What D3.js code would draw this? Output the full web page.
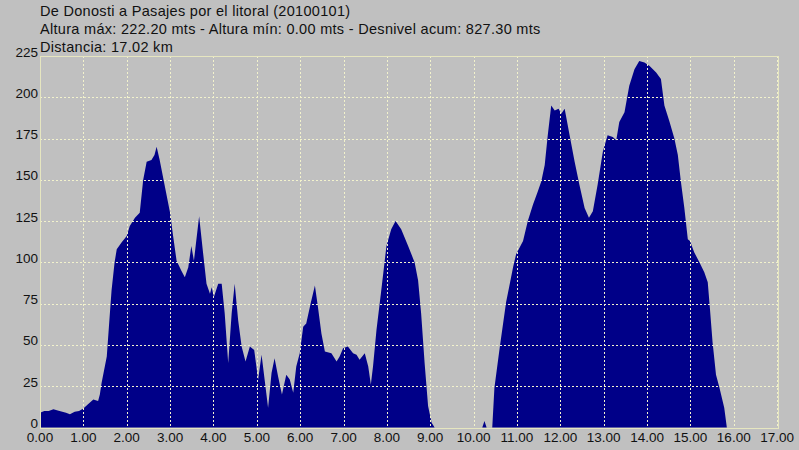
<!DOCTYPE html>
<html><head><meta charset="utf-8">
<script src="https://cdn.jsdelivr.net/npm/d3@7"></script>
<style>html,body{margin:0;padding:0;background:#c0c0c0;}svg{display:block;font-family:"Liberation Sans",Arial,sans-serif;}</style>
</head><body>
<script>
const titleLines = [
  "De Donosti a Pasajes por el litoral (20100101)",
  "Altura máx: 222.20 mts - Altura mín: 0.00 mts - Desnivel acum: 827.30 mts",
  "Distancia: 17.02 km"
];
const xTicks = [0,1,2,3,4,5,6,7,8,9,10,11,12,13,14,15,16,17];
const yTicks = [0,25,50,75,100,125,150,175,200,225];
const dist = [0.00,0.10,0.20,0.31,0.45,0.60,0.69,0.80,0.90,1.00,1.10,1.23,1.34,1.38,1.42,1.54,1.60,1.65,1.72,1.77,1.88,2.00,2.07,2.19,2.30,2.38,2.46,2.57,2.64,2.69,2.76,2.88,3.00,3.07,3.15,3.26,3.34,3.42,3.49,3.55,3.67,3.76,3.84,3.92,3.96,4.01,4.11,4.19,4.26,4.34,4.42,4.49,4.57,4.65,4.74,4.84,4.94,5.03,5.11,5.18,5.26,5.34,5.41,5.49,5.58,5.68,5.76,5.84,5.91,5.99,6.07,6.14,6.24,6.34,6.41,6.49,6.57,6.72,6.84,6.91,6.99,7.10,7.22,7.30,7.37,7.49,7.57,7.63,7.68,7.76,7.87,7.99,8.10,8.20,8.33,8.49,8.64,8.72,8.79,8.87,8.95,9.03,9.10,10.20,10.25,10.30,10.43,10.48,10.60,10.75,10.91,10.98,11.14,11.25,11.37,11.48,11.56,11.64,11.71,11.79,11.87,11.96,12.02,12.10,12.20,12.33,12.44,12.56,12.66,12.75,12.86,12.98,13.09,13.21,13.29,13.36,13.48,13.59,13.71,13.82,13.94,14.06,14.21,14.32,14.40,14.52,14.63,14.71,14.78,14.86,14.94,14.99,15.09,15.21,15.32,15.40,15.45,15.51,15.59,15.67,15.78,15.84,17.02];
const elev = [9,10,10,11,10,9,8,9.5,10,11.5,14,17,16,20,27,43,65,83,100,108,112,116,122,127,130,150,161,162,165,170,162,146,130,116,101,95,91,97,110,101,128,106,87,81,85,79,87,87,69,39,69,87,65,49,40,49,47,29,44,29,12,33,42,31,20,32,29,21,37,45,61,63,75,86,73,57,46,45,40,43,48,49,45,44,41,45,37,26,37,59,83,110,120,125,120,110,100,89,69,39,13,3,0,0,4,0,0,24,48,76,97,105,113,125,135,143,149,159,177,195,192,193,190,193,179,161,147,133,127,131,147,167,177,176,174,185,191,207,217,222,221,219,215,211,195,185,175,165,149,133,114,113,106,100,94,88,72,52,32,24,12,0,0];

const W = 799, H = 450;
const svg = d3.select("body").append("svg").attr("width", W).attr("height", H);
svg.append("rect").attr("width", W).attr("height", H).attr("fill", "#c0c0c0");

const x = d3.scaleLinear().domain([0, 17.02]).range([40, 778]);
const y = d3.scaleLinear().domain([0, 225]).range([427.5, 56]);
const data = dist.map((d, i) => ({d, e: elev[i]}));

// area
const area = d3.area().x(p => x(p.d)).y0(y(0)).y1(p => y(p.e));
svg.append("path").datum(data).attr("d", area).attr("fill", "#000088");

// grid
const gridColor = "#f2f2cc";
const g = svg.append("g");
g.selectAll("line.h").data(yTicks.slice(1, -1)).join("line")
  .attr("x1", x(0)).attr("x2", x(17.02))
  .attr("y1", v => Math.round(y(v)) + 0.5).attr("y2", v => Math.round(y(v)) + 0.5)
  .attr("stroke", gridColor).attr("stroke-dasharray", "2,2");
g.selectAll("line.v").data(xTicks.slice(1)).join("line")
  .attr("x1", v => Math.round(x(v)) + 0.5).attr("x2", v => Math.round(x(v)) + 0.5)
  .attr("y1", y(225)).attr("y2", y(0))
  .attr("stroke", gridColor).attr("stroke-dasharray", "2,2");

// frame
svg.append("rect").attr("x", x(0) + 0.5).attr("y", Math.round(y(225)) + 0.5)
  .attr("width", Math.round(x(17.02) - x(0))).attr("height", Math.round(y(0) - y(225)))
  .attr("fill", "none").attr("stroke", "#e6e6c0");

// y labels
svg.selectAll("text.yl").data(yTicks).join("text")
  .attr("x", 38).attr("y", v => y(v) + 0.5)
  .attr("text-anchor", "end").attr("font-size", 13.5).attr("fill", "#111")
  .text(v => v);

// x labels
svg.selectAll("text.xl").data(xTicks).join("text")
  .attr("x", v => x(v)).attr("y", 442)
  .attr("text-anchor", "middle").attr("font-size", 13.5).attr("fill", "#111")
  .text(v => v.toFixed(2));

// title lines
svg.selectAll("text.t").data(titleLines).join("text")
  .attr("x", 40).attr("y", (t, i) => 16 + i * 17.8)
  .attr("font-size", 14.5).attr("letter-spacing", "0.3px").attr("fill", "#111")
  .text(t => t);
</script>
</body></html>
